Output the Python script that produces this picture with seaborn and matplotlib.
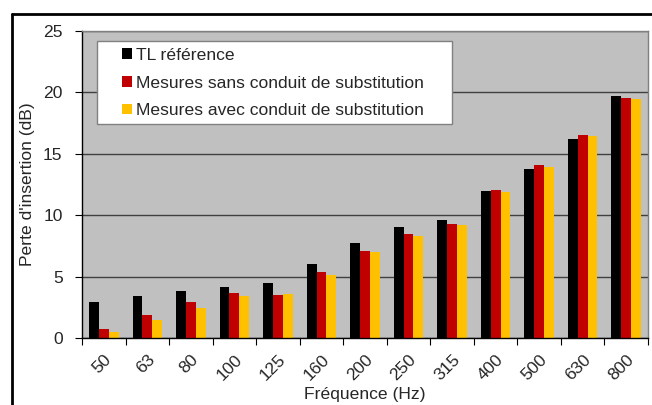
import numpy as np
import pandas as pd
import matplotlib
matplotlib.use("Agg")
import matplotlib.pyplot as plt
from matplotlib.lines import Line2D
from matplotlib.patches import Rectangle
from matplotlib.ticker import FixedLocator
import seaborn as sns

frequencies = ["50", "63", "80", "100", "125", "160", "200", "250", "315", "400", "500", "630", "800"]
tl_reference = [2.93, 3.42, 3.83, 4.13, 4.46, 6.06, 7.72, 9.04, 9.58, 11.99, 13.79, 16.23, 19.67]
sans_conduit = [0.71, 1.90, 2.96, 3.64, 3.48, 5.38, 7.09, 8.44, 9.25, 12.08, 14.06, 16.53, 19.51]
avec_conduit = [0.49, 1.47, 2.45, 3.40, 3.61, 5.14, 7.04, 8.30, 9.23, 11.86, 13.95, 16.45, 19.46]
series_names = ["TL référence",
                "Mesures sans conduit de substitution",
                "Mesures avec conduit de substitution"]
y_ticks = [0, 5, 10, 15, 20, 25]

df = pd.DataFrame({
    "freq": frequencies * 3,
    "value": tl_reference + sans_conduit + avec_conduit,
    "series": [series_names[0]] * 13 + [series_names[1]] * 13 + [series_names[2]] * 13,
})

sns.set_style("white")
plt.rcParams["font.family"] = ["Liberation Sans", "DejaVu Sans"]
FS = 12.6

fig = plt.figure(figsize=(6.52, 4.05), dpi=100)
W, H = 652, 405
ax = fig.add_axes([82 / W, 1 - 338 / H, (648 - 82) / W, (338 - 31) / H])

palette = ["#000000", "#C00000", "#FFC000"]
sns.barplot(data=df, x="freq", y="value", hue="series", order=frequencies,
            hue_order=series_names, palette=palette, width=0.68, gap=0,
            saturation=1, ax=ax, linewidth=0, edgecolor="none")

ax.set_facecolor("#C0C0C0")
ax.set_ylim(0, 25)
ax.set_xlim(-0.5, len(frequencies) - 0.5)
ax.set_yticks(y_ticks)
ax.set_yticklabels([str(t) for t in y_ticks], fontsize=FS)
ax.yaxis.grid(True, color="#404040", linewidth=1)
ax.set_axisbelow(True)
ax.xaxis.grid(False)

ax.set_xticks(range(len(frequencies)))
ax.set_xticklabels(frequencies, rotation=45, ha="right", rotation_mode="anchor", fontsize=FS)
ax.xaxis.set_minor_locator(FixedLocator(np.arange(-0.5, len(frequencies), 1.0)))
ax.tick_params(axis="x", which="major", length=0, pad=10)
ax.tick_params(axis="x", which="minor", length=5, width=0.8, color="#000000", direction="out", bottom=True)
ax.tick_params(axis="y", which="major", length=5, width=0.8, color="#000000", direction="out", left=True, pad=9)

for s in ["left", "bottom"]:
    ax.spines[s].set_color("#000000")
    ax.spines[s].set_linewidth(1)
for s in ["top", "right"]:
    ax.spines[s].set_visible(True)
    ax.spines[s].set_color("#808080")
    ax.spines[s].set_linewidth(1)

ax.set_xlabel("Fréquence (Hz)", fontsize=FS, labelpad=2.5)
ax.set_ylabel("Perte d'insertion (dB)", fontsize=FS, labelpad=6)

def px_to_axes(x, y):
    return ((x - 82) / 566, (338 - y) / 307)

bx0, by0 = px_to_axes(96.7, 124.3)
bx1, by1 = px_to_axes(452, 41)
ax.add_patch(Rectangle((bx0, by0), bx1 - bx0, by1 - by0, transform=ax.transAxes,
                       facecolor="white", edgecolor="#808080", linewidth=1, zorder=5))

fs_px = FS * 100 / 72
leg = ax.legend(loc="upper left", bbox_to_anchor=px_to_axes(122, 48),
                borderaxespad=0, fontsize=FS, frameon=False,
                handlelength=10 / fs_px, handleheight=10 / fs_px, handletextpad=0.22,
                labelspacing=0.72, borderpad=0, title=None)
leg.set_zorder(6)

fig.add_artist(Line2D([12 / W, 12 / W], [0, 1 - 14 / H], color="black", linewidth=2, transform=fig.transFigure))
fig.add_artist(Line2D([12 / W, 1], [1 - 14 / H, 1 - 14 / H], color="black", linewidth=2, transform=fig.transFigure))

fig.savefig("out.png", dpi=100, facecolor="white")
